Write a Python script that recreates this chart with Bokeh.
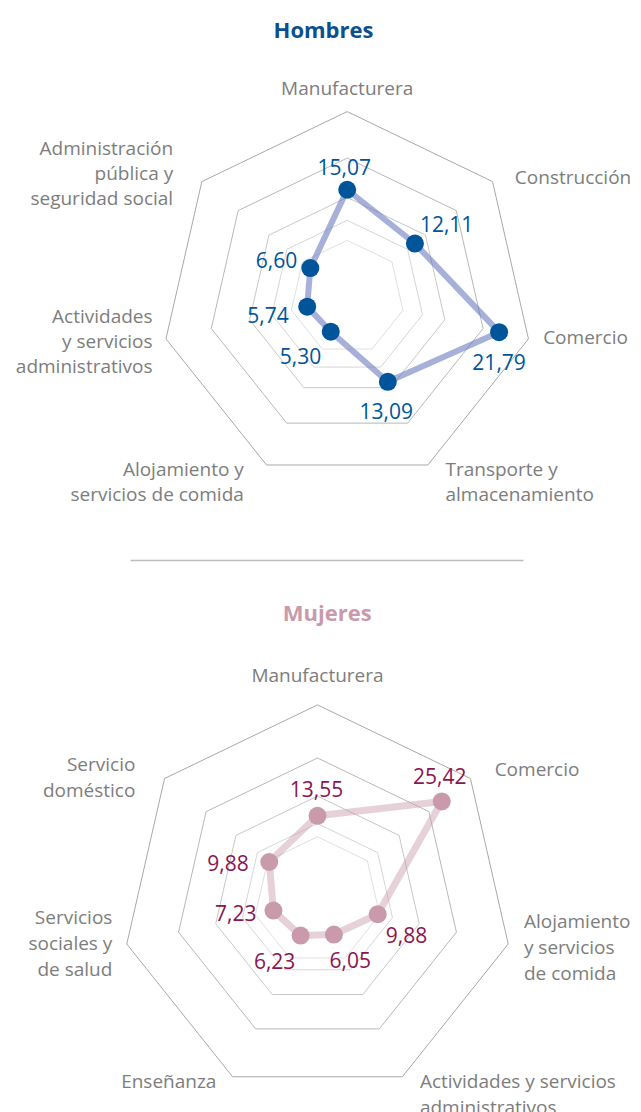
import math
from bokeh.plotting import figure
from bokeh.models import Range1d
from bokeh.layouts import column
from bokeh.embed import file_html
from bokeh.resources import INLINE
from bokeh.core.properties import value

# ---------------- DATA ----------------
hombres_titulo = "Hombres"
hombres_categorias = [
    "Manufacturera",
    "Construcción",
    "Comercio",
    "Transporte y\nalmacenamiento",
    "Alojamiento y\nservicios de comida",
    "Actividades\ny servicios\nadministrativos",
    "Administración\npública y\nseguridad social",
]
hombres_valores = [15.07, 12.11, 21.79, 13.09, 5.30, 5.74, 6.60]
hombres_anillos = [8.0, 10.8, 14.0, 19.5, 26.0]

mujeres_titulo = "Mujeres"
mujeres_categorias = [
    "Manufacturera",
    "Comercio",
    "Alojamiento\ny servicios\nde comida",
    "Actividades y servicios\nadministrativos",
    "Enseñanza",
    "Servicios\nsociales y\nde salud",
    "Servicio\ndoméstico",
]
mujeres_valores = [13.55, 25.42, 9.88, 6.05, 6.23, 7.23, 9.88]
mujeres_anillos = [10.2, 12.3, 16.7, 22.8, 31.3]

# ---------------- STYLE / LAYOUT ----------------
FONT = "Open Sans"
W = 641
ORIGIN_X = 0
ring_colors = ["#e0e0e0", "#d6d6d6", "#c8c8c8", "#b8b8b8", "#a8a8a8"]
label_gray = "#7d7d7d"

hombres_style = dict(
    top=0, height=566, cx=346.7, cy=297.0, k=7.15,
    title_xy=(323, 28), title_color="#0b4f8e",
    dot_color="#00559a", line_color="#6a7bc0", line_alpha=0.6, line_width=6,
    val_color="#00559a", line_h=25,
    val_off=[(-3, -22.5, "center"), (5, -20, "left"), (0, 30, "center"),
             (-1.5, 29, "center"), (-9.6, 24, "right"), (-18.4, 8, "right"),
             (-13, -7.6, "right")],
    cat_off=[(0, -23.4, "center"), (22.3, -5, "left"), (14.7, -1.7, "left"),
             (17.6, 4.5, "left"), (-22.7, 4.5, "right"), (-13.4, -22.4, "right"),
             (-28.7, -33.1, "right")],
    sep=((130, 560), (523, 560)),
)
mujeres_style = dict(
    top=566, height=546, cx=317.0, cy=900.0, k=6.25,
    title_xy=(326.7, 611.7), title_color="#c99aab",
    dot_color="#c99aab", line_color="#c999aa", line_alpha=0.45, line_width=7,
    val_color="#8a1650", line_h=26,
    val_off=[(-1, -27, "center"), (-2, -25, "center"), (8, 21, "left"),
             (16.4, 25, "center"), (-26, 25, "center"), (-17, 2.6, "right"),
             (-20.4, 1, "right")],
    cat_off=[(0, -29.5, "center"), (24.2, -10, "left"), (15.7, -23.5, "left"),
             (17.5, 3.9, "left"), (-16.2, 3.9, "right"), (-14.4, -27.5, "right"),
             (-29.2, -14.1, "right")],
    sep=None,
)


def fmt(v):
    return f"{v:.2f}".replace(".", ",")


def radar(titulo, categorias, valores, anillos, st):
    n = len(categorias)
    k, cx, cy, top, H = st["k"], st["cx"], st["cy"], st["top"], st["height"]
    x0 = -(cx - ORIGIN_X) / k
    y1 = (cy - top) / k
    p = figure(width=W, height=H, output_backend="svg", toolbar_location=None,
               x_range=Range1d(x0, x0 + W / k), y_range=Range1d(y1 - H / k, y1),
               x_axis_type=None, y_axis_type=None, min_border=0,
               outline_line_color=None, background_fill_color="white",
               border_fill_color="white")
    p.grid.visible = False

    def to_data(px, py):
        return (px - cx) / k, (cy - py) / k

    th = [math.pi / 2 - i * 2 * math.pi / n for i in range(n)]
    cos_t = [math.cos(t) for t in th]
    sin_t = [math.sin(t) for t in th]

    # grid rings
    rx, ry = [], []
    for lv in anillos:
        rx.append([lv * c for c in cos_t] + [lv * cos_t[0]])
        ry.append([lv * s for s in sin_t] + [lv * sin_t[0]])
    p.multi_line(xs=rx, ys=ry, line_color=ring_colors[:len(anillos)], line_width=1)

    # series line and points
    xs = [v * c for v, c in zip(valores, cos_t)]
    ys = [v * s for v, s in zip(valores, sin_t)]
    p.line(xs + [xs[0]], ys + [ys[0]], line_color=st["line_color"],
           line_alpha=st["line_alpha"], line_width=st["line_width"], line_join="round")
    p.scatter(xs, ys, size=18, fill_color=st["dot_color"], line_color=None)

    # value labels
    for al in ("left", "center", "right"):
        sx, sy, tx = [], [], []
        for i, v in enumerate(valores):
            dx, dy, a = st["val_off"][i]
            if a != al:
                continue
            sx.append(xs[i] + dx / k)
            sy.append(ys[i] - dy / k)
            tx.append(fmt(v))
        if tx:
            p.text(x=sx, y=sy, text=tx, text_align=al, text_baseline="middle",
                   text_font=value(FONT), text_font_size="21px",
                   text_color=st["val_color"])

    # category labels
    R = anillos[-1]
    for al in ("left", "center", "right"):
        sx, sy, tx = [], [], []
        for i, cat in enumerate(categorias):
            dx, dy, a = st["cat_off"][i]
            if a != al:
                continue
            vx, vy = R * cos_t[i], R * sin_t[i]
            for j, line in enumerate(cat.split("\n")):
                sx.append(vx + dx / k)
                sy.append(vy - (dy + j * st["line_h"]) / k)
                tx.append(line)
        if tx:
            p.text(x=sx, y=sy, text=tx, text_align=al, text_baseline="middle",
                   text_font=value(FONT), text_font_size="19px", text_color=label_gray)

    # title
    tx_, ty_ = to_data(*st["title_xy"])
    p.text(x=[tx_], y=[ty_], text=[titulo], text_align="center", text_baseline="middle",
           text_font=value(FONT), text_font_size="22px", text_font_style="bold",
           text_color=st["title_color"])

    # separator
    if st["sep"]:
        (ax, ay), (bx, by) = st["sep"]
        a_ = to_data(ax, ay)
        b_ = to_data(bx, by)
        p.line([a_[0], b_[0]], [a_[1], b_[1]], line_color="#bdbdbd", line_width=1.5)
    return p


p1 = radar(hombres_titulo, hombres_categorias, hombres_valores, hombres_anillos, hombres_style)
p2 = radar(mujeres_titulo, mujeres_categorias, mujeres_valores, mujeres_anillos, mujeres_style)
layout = column(p1, p2, spacing=0)

open("out.html", "w").write(file_html(layout, INLINE))
